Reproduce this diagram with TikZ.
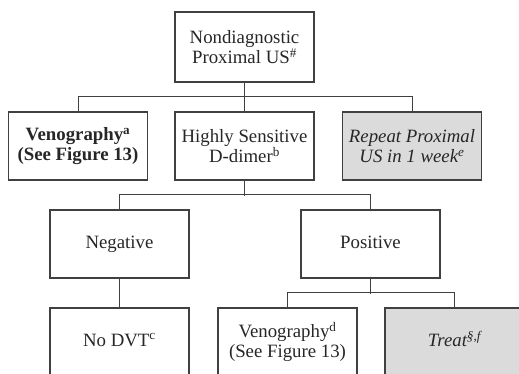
\documentclass[tikz,border=0pt]{standalone}
\usepackage{fontspec}
\setmainfont{Liberation Serif}
\begin{document}
\begin{tikzpicture}[x=1pt,y=-1pt,
  box/.style={draw=black!75, line width=1.1pt, rectangle, inner sep=0pt,
    minimum width=139pt, minimum height=68pt, align=center,
    text=black!85, font=\fontsize{18.8}{20}\selectfont},
  shaded/.style={box, fill=black!14},
  link/.style={draw=black!75, line width=0.9pt}]
\useasboundingbox (0,0) rectangle (519,373);
\clip (0,0) rectangle (519,373);

% first level
\node[box, minimum height=70pt] (us) at (244.5,47) {Nondiagnostic\\Proximal US\textsuperscript{\#}};

% second level
\node[box] (veno1) at (78,146) {\textbf{Venography\textsuperscript{a}}\\\textbf{(See Figure 13)}};
\node[box] (dimer) at (244.5,146) {Highly Sensitive\\D-dimer\textsuperscript{b}};
\node[shaded] (repeat) at (412,146) {\textit{Repeat Proximal}\\\textit{US in 1 week\textsuperscript{e}}};

% third level
\node[box] (neg) at (119.5,244) {\strut Negative};
\node[box] (pos) at (370.5,244) {\strut Positive};

% fourth level
\node[box] (nodvt) at (119.5,342) {\strut No DVT\textsuperscript{c}};
\node[box] (veno2) at (287.5,342) {Venography\textsuperscript{d}\\(See Figure 13)};
\node[shaded] (treat) at (454.5,342) {\strut\textit{Treat\textsuperscript{§,f}}};

% connectors
\draw[link] (us.south) -- (dimer.north);
\draw[link] (veno1.north) -- ++(0,-15) -| (repeat.north);
\draw[link] (dimer.south) -- ++(0,15) coordinate (j1);
\draw[link] (neg.north) -- ++(0,-15) -| (pos.north);
\draw[link] (neg.south) -- (nodvt.north);
\draw[link] (pos.south) -- ++(0,15) coordinate (j2);
\draw[link] (veno2.north) -- ++(0,-15) -| (treat.north);
\end{tikzpicture}
\end{document}
